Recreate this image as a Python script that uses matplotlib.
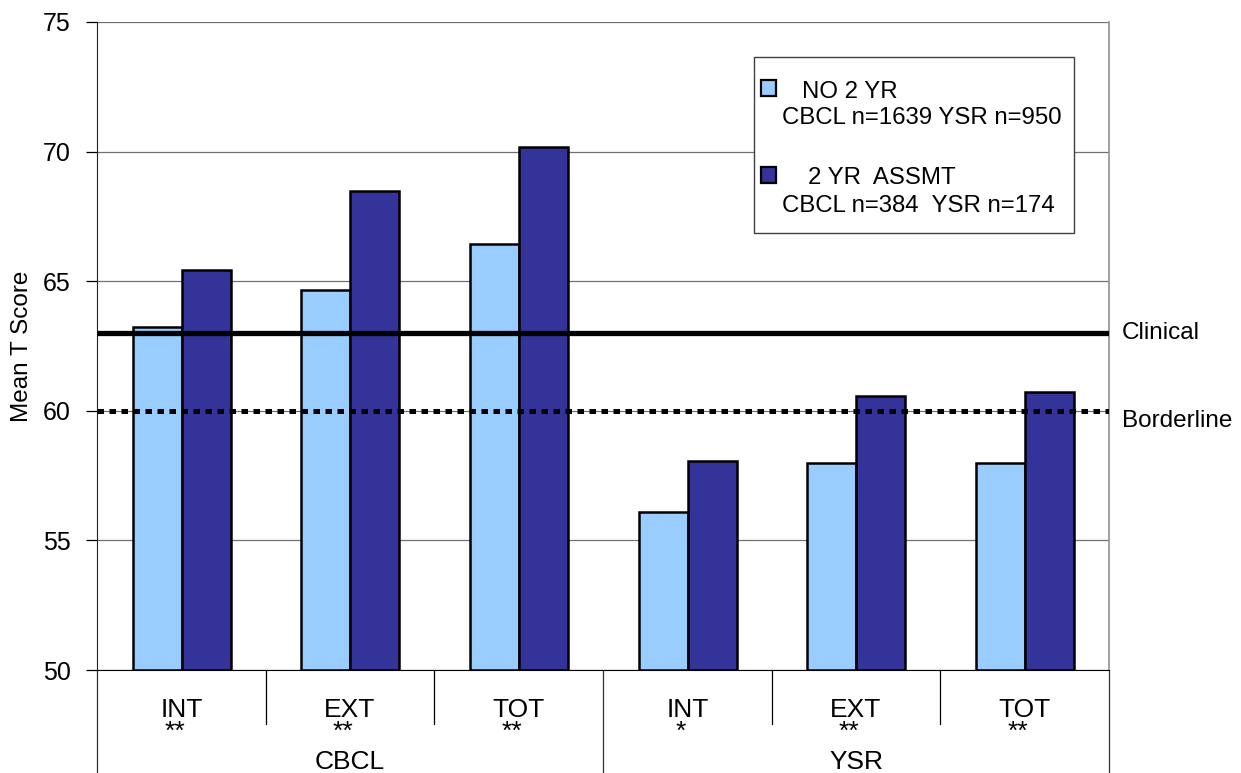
import matplotlib.pyplot as plt
import matplotlib.transforms as mtrans
import numpy as np

plt.rcParams['font.family'] = ['Liberation Sans', 'DejaVu Sans']

# data
scales = ['INT', 'EXT', 'TOT', 'INT', 'EXT', 'TOT']
stars = ['**', '**', '**', '*', '**', '**']
groups = ['CBCL', 'YSR']
no_2yr = [63.24, 64.65, 66.44, 56.10, 57.99, 57.97]
assmt_2yr = [65.42, 68.48, 70.18, 58.06, 60.58, 60.71]
clinical = 63
borderline = 60

W, H = 1241, 773
fig = plt.figure(figsize=(W / 100, H / 100), dpi=100)
ax = fig.add_axes([97 / W, 1 - 670 / H, (1109 - 97) / W, (670 - 22) / H])


def px(x, y):
    # figure pixel -> figure fraction
    return x / W, 1 - y / H


x = np.arange(len(scales)) + 0.502
w = 0.29
ax.bar(x - w / 2, np.array(no_2yr) - 50, w, bottom=50, color='#99ccff',
       edgecolor='black', linewidth=1.8, zorder=2)
ax.bar(x + w / 2, np.array(assmt_2yr) - 50, w, bottom=50, color='#333399',
       edgecolor='black', linewidth=1.8, zorder=2)

ax.axhline(clinical, color='black', lw=3.8, zorder=4)
ax.axhline(borderline, color='black', lw=3.6, ls=(0, (1.3, 1.1)), zorder=4)

ax.set_xlim(0, 6)
ax.set_ylim(50, 75)
ax.set_yticks(range(50, 76, 5))
ax.set_xticks([])
ax.yaxis.grid(True, color='#707070', lw=0.9)
ax.set_axisbelow(True)
ax.tick_params(axis='y', labelsize=18, length=8, width=0.9, pad=11)
ax.spines['top'].set_visible(False)
ax.spines['right'].set_color('#909090')
ax.spines['right'].set_linewidth(1.2)
ax.spines['left'].set_color('#202020')
ax.spines['bottom'].set_color('black')

fig.text(*px(22, 346), 'Mean T Score', rotation=90, ha='center', va='center', fontsize=17.5)

# reference line labels
fig.text(*px(1122, 339), 'Clinical', fontsize=17.5, va='baseline')
fig.text(*px(1122, 427), 'Borderline', fontsize=17.5, va='baseline')

# two-level category axis
tr = mtrans.blended_transform_factory(ax.transData, fig.transFigure)
y0 = 1 - 670 / H
for i in range(len(scales) + 1):
    end = 0 if i % 3 == 0 else 1 - 724 / H
    ax.plot([i, i], [y0, end], color='black' if i % 3 else '#303030', lw=0.9,
            transform=tr, clip_on=False)
for i, (s, st) in enumerate(zip(scales, stars)):
    ax.text(i + 0.5, 1 - 717 / H, s, transform=tr, ha='center', va='baseline', fontsize=19)
    ax.text(i + 0.46, 1 - 739 / H, st, transform=tr, ha='center', va='baseline', fontsize=19)
for j, g in enumerate(groups):
    ax.text(3 * j + 1.5, 1 - 769 / H, g, transform=tr, ha='center', va='baseline', fontsize=19)

# legend box
box = plt.Rectangle(px(754, 233), 320 / W, 176 / H, transform=fig.transFigure,
                    facecolor='white', edgecolor='#404040', lw=1.0, zorder=5)
fig.patches.append(box)
for yc, col in [(88, '#99ccff'), (175, '#333399')]:
    sq = plt.Rectangle(px(761, yc + 7.5), 15 / W, 15 / H, transform=fig.transFigure,
                       facecolor=col, edgecolor='black', lw=1.6, zorder=6)
    fig.patches.append(sq)
fig.text(*px(802, 98), 'NO 2 YR', fontsize=17.3, va='baseline', zorder=7)
fig.text(*px(782, 124), 'CBCL n=1639 YSR n=950', fontsize=17.3, va='baseline', zorder=7)
fig.text(*px(808, 184), '2 YR  ASSMT', fontsize=17.3, va='baseline', zorder=7)
fig.text(*px(782, 212), 'CBCL n=384  YSR n=174', fontsize=17.3, va='baseline', zorder=7)

fig.savefig('out.png', dpi=100)
